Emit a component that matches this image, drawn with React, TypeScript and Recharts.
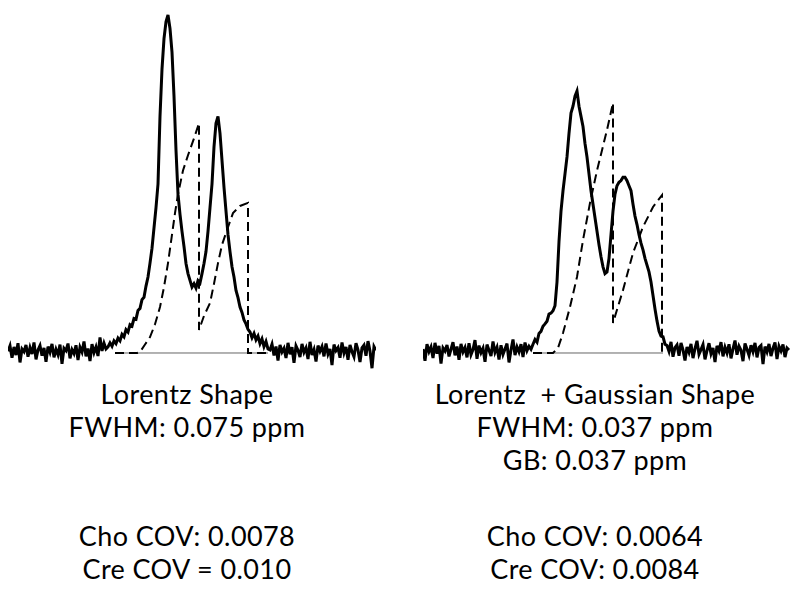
import React from 'react';
import { LineChart, Line, XAxis, YAxis } from 'recharts';

// measured spectra, one value per sample point (arbitrary intensity, main Cho peak = 100)
const lorentzSignal = [
  0.5, 2.1, -1.4, 1.8, -0.6, 2.9, -2.8, 1.2, 0.4, 2.4,
  -1.1, 1.6, -0.3, 3.1, -1.9, 0.9, 2.2, -0.8, 1.5, -2.6,
  1.9, 0.2, 2.7, -1.3, 1.1, -0.5, 2.5, -3.2, 1.4, 0.7,
  2.8, -1.6, 1.0, -0.2, 2.3, -2.1, 1.7, 0.3, 3.4, -1.0,
  1.3, -2.4, 2.6, 0.1, 1.8, -0.9, 4.6, 0.6, 2.9, 1.2,
  1.8, 3.0, 2.0, 3.6, 2.8, 4.4, 3.6, 5.5, 4.8, 6.9,
  6.2, 8.4, 8.0, 10.2, 10.0, 12.6, 13.2, 15.8, 16.5, 19.8,
  22.5, 26.6, 31, 37, 43, 50, 70, 84, 93, 98,
  100, 96, 89, 76, 60, 47, 41, 36, 31.5, 26.5,
  23.5, 21.5, 19.5, 20.5, 19.2, 21.4, 20.7, 23.5, 26.5, 30,
  36, 43, 50, 61, 68, 70, 65, 57, 49, 42,
  35, 30, 25.5, 22.5, 18.5, 16.4, 13.6, 12.0, 9.8, 8.6,
  7.0, 6.2, 4.5, 5.8, 3.9, 5.0, 2.8, 4.2, 1.9, 3.4,
  1.2,
  0.9, 2.6, -0.7, 1.9, -2.2, 2.4, 0.3, 1.4, -1.5, 3.0,
  -0.4, 1.7, -2.9, 2.1, 0.8, -1.2, 2.7, 0.2, 1.5, -1.8,
  3.3, -0.6, 1.0, -2.5, 2.2, 0.5, 1.9, -1.0, 2.8, -0.3,
  1.2, -3.6, 2.5, 0.7, 1.6, -1.4, 3.1, 0.0, 1.8, -2.0,
  2.4, 0.4, -1.1, 2.9, 0.9, -2.7, 1.5, 2.3, -0.8, 3.5,
  0.6, -4.5, 1.9, 0.8,
];

const gaussSignal = [
  1.2, -2.3, 2.6, 0.4, 1.8, -1.5, 3.0, -0.2, 2.1, -3.1,
  1.5, 0.6, 2.4, -1.0, 1.1, 3.2, -0.7, 1.9, -2.0, 2.7,
  0.3, 1.6, -1.3, 2.9, -0.5, 1.0, 3.8, -1.7, 2.2, 0.1,
  1.4, -2.6, 2.5, 0.8, -0.9, 3.4, 0.2, 1.7, -1.9, 2.3,
  -0.4, 1.2, 2.8, -2.8, 0.9, 4.0, -0.6, 1.8, 0.3, 2.6,
  -1.2, 3.1, 0.7, 2.0, 1.1,
  2.6, 4.0, 3.2, 5.8, 6.4, 7.9, 8.6, 9.4, 11.5, 11.8,
  12.5, 14, 21, 33, 42, 48, 53, 58, 65, 71,
  73, 76, 77.5, 73, 70, 67, 62, 58, 53, 48,
  44, 40, 36, 32, 28.5, 25.5, 23.5, 24, 28, 35,
  42, 47, 49.5, 50.5, 51, 52, 52, 51, 49.5, 48,
  44, 40.5, 38, 35, 32.5, 30.5, 28, 26, 24, 21,
  17, 13, 9.5, 6.5, 5, 4.8, 2.6,
  2.2, 0.5, 3.3, -1.1, 1.6, 2.4, -0.8, 3.0, 0.9, -2.2,
  1.8, 0.2, 2.7, -1.5, 1.3, 3.6, -0.4, 1.0, 2.5, -1.9,
  0.7, 2.9, -0.2, 1.5, -2.7, 2.1, 0.6, 3.2, -1.0, 1.7,
  0.0, 2.6, -1.6, 1.2, 3.7, -0.5, 2.0, 0.8, -2.4, 2.8,
  1.1, -0.7, 2.3, 0.4, 3.0, -1.3, 1.6, 2.2, -3.3, 1.9,
  0.3, 2.7, -0.9, 1.4, 3.1, -1.8, 2.0, 0.6, 2.5, -1.2,
  1.5, 0.9,
];

// fitted model (dashed), sample position + intensity
const lorentzFitX = [53.5, 64.5, 66, 68.5, 71, 73.5, 76, 78, 80, 82, 83.5, 85, 87.5, 90, 93, 95.5,
  95.5, 98, 101, 103, 105, 107, 109.5, 112.5, 116, 120, 120, 130];
const lorentzFitY = [0, 0, 0.3, 2.5, 4.7, 8.5, 13.6, 19.5, 26.6, 35, 41.4, 47, 54, 58.5, 63.5, 68,
  6.8, 11, 14.8, 20.5, 26.6, 32, 36.4, 41.4, 43.5, 44.4, 0, 0];

const gaussFitX = [55, 65, 67.5, 70, 73.5, 77, 80, 83.5, 87, 92, 95,
  95, 100, 105, 110, 115, 119.5, 119.5];
const gaussFitY = [0, 0, 1.5, 5.9, 13.6, 22.5, 33.4, 44.4, 54, 66, 74,
  8.9, 18.6, 29.6, 37.3, 43.2, 46.7, 0];

const lorentzBaseX = [53.5, 130];
const gaussBaseX = [55, 120];

const lorentzLabels = ['Lorentz Shape', 'FWHM: 0.075 ppm'];
const gaussLabels = ['Lorentz  + Gaussian Shape', 'FWHM: 0.037 ppm', 'GB: 0.037 ppm'];
const lorentzCov = ['Cho COV: 0.0078', 'Cre COV = 0.010'];
const gaussCov = ['Cho COV: 0.0064', 'Cre COV: 0.0084'];

const pts = (xs: number[], ys: number[]) => xs.map((x, i) => ({ x, y: ys[i] }));

interface SpectrumProps {
  signal: number[];
  fitX: number[];
  fitY: number[];
  baseX: number[];
  left: number;
  marginLeft: number;
}

const Spectrum = ({ signal, fitX, fitY, baseX, left, marginLeft }: SpectrumProps) => {
  const signalData = signal.map((y, i) => ({ x: i, y }));
  return (
    <div style={{ position: 'absolute', left, top: 0 }}>
      <LineChart width={400} height={370} margin={{ top: 0, right: 32 - marginLeft, bottom: 0, left: marginLeft }}>
        <XAxis type="number" dataKey="x" domain={[0, 184]} hide allowDataOverflow />
        <YAxis type="number" dataKey="y" domain={[-5.03, 104.44]} hide allowDataOverflow />
        <Line data={pts(baseX, [0, 0])} dataKey="y" stroke="#666" strokeWidth={1} dot={false} isAnimationActive={false} />
        <Line data={pts(fitX, fitY)} dataKey="y" stroke="#000" strokeWidth={2} strokeDasharray="9 5" dot={false} isAnimationActive={false} />
        <Line data={signalData} dataKey="y" stroke="#000" strokeWidth={3} strokeLinejoin="miter" dot={false} isAnimationActive={false} />
      </LineChart>
    </div>
  );
};

const textStyle: React.CSSProperties = {
  position: 'absolute',
  width: 400,
  textAlign: 'center',
  fontFamily: 'Lato, "Open Sans", sans-serif',
  fontSize: 27,
  letterSpacing: 0.4,
  lineHeight: '33px',
  color: '#000',
};

export default function App() {
  return (
    <div style={{ position: 'absolute', left: 0, top: 0, width: 800, height: 590, background: '#fff', overflow: 'hidden' }}>
      <Spectrum signal={lorentzSignal} fitX={lorentzFitX} fitY={lorentzFitY} baseX={lorentzBaseX} left={0} marginLeft={8} />
      <Spectrum signal={gaussSignal} fitX={gaussFitX} fitY={gaussFitY} baseX={gaussBaseX} left={400} marginLeft={23} />
      <div style={{ ...textStyle, left: -13, top: 377 }}>
        {lorentzLabels.map((t) => <div key={t}>{t}</div>)}
      </div>
      <div style={{ ...textStyle, left: 395, top: 377 }}>
        {gaussLabels.map((t) => <div key={t} style={{ whiteSpace: 'pre' }}>{t}</div>)}
      </div>
      <div style={{ ...textStyle, left: -13, top: 519 }}>
        {lorentzCov.map((t) => <div key={t}>{t}</div>)}
      </div>
      <div style={{ ...textStyle, left: 395, top: 519 }}>
        {gaussCov.map((t) => <div key={t}>{t}</div>)}
      </div>
    </div>
  );
}
